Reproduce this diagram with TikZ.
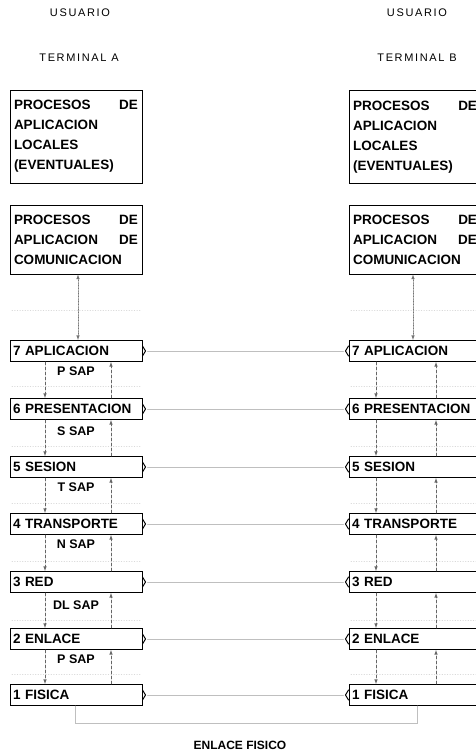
\documentclass[tikz,border=0pt]{standalone}
\usepackage{fontspec}
\setmainfont{Liberation Sans}
\newfontfamily\headfont{Liberation Sans}[LetterSpace=15]
\usetikzlibrary{arrows}

\tikzset{
  procbox/.style={draw,line width=1pt,text width=124pt,inner xsep=4pt,inner ysep=3pt,
    align=left,font=\fontsize{13.5}{20}\selectfont\bfseries},
  layer/.style={draw,line width=1pt,text width=126pt,inner xsep=3pt,inner ysep=0pt,
    minimum height=21pt,align=left,font=\fontsize{13.5}{16}\selectfont\bfseries},
  sap/.style={font=\fontsize{12.5}{14}\selectfont\bfseries},
  head/.style={font=\fontsize{11}{13}\headfont},
  peer/.style={gray!50,line width=.6pt},
  svc/.style={black!60,line width=.6pt,dash pattern=on 3pt off 2pt,-latex},
  link/.style={black!55,line width=.6pt,densely dotted,latex-latex},
  gapline/.style={gray!30,dotted,line width=.6pt},
}

\begin{document}
\begin{tikzpicture}[x=1pt,y=-1pt,line cap=round]
  \useasboundingbox (0,0) rectangle (476,755);

  % terminal A
  \node[head] (usrA) at (80,13) {USUARIO};
  \node[head] (termA) at (79,58) {TERMINAL A};
  \node[procbox,minimum height=93pt] (locA) at (76,136.5)
    {PROCESOS\hfill DE\\APLICACION\\LOCALES\\(EVENTUALES)};
  \node[procbox,minimum height=69pt] (comA) at (76,239.5)
    {PROCESOS\hfill DE\\APLICACION\hfill DE\\COMUNICACION};
  \node[layer] (a7) at (76,351) {7 APLICACION};
  \node[layer] (a6) at (76,409) {6 PRESENTACION};
  \node[layer] (a5) at (76,467) {5 SESION};
  \node[layer] (a4) at (76,524) {4 TRANSPORTE};
  \node[layer] (a3) at (76,582) {3 RED};
  \node[layer] (a2) at (76,639) {2 ENLACE};
  \node[layer] (a1) at (76,695) {1 FISICA};

  \node[sap] (sap7) at (76,371) {P SAP};
  \node[sap] (sap6) at (76,431) {S SAP};
  \node[sap] (sap5) at (76,487) {T SAP};
  \node[sap] (sap4) at (76,544) {N SAP};
  \node[sap] (sap3) at (76,605) {DL SAP};
  \node[sap] (sap2) at (76,659) {P SAP};

  % terminal B
  \node[head] (usrB) at (417,13) {USUARIO};
  \node[head] (termB) at (417,58) {TERMINAL B};
  \node[procbox,minimum height=93pt] (locB) at (415,137)
    {PROCESOS\hfill DE\\APLICACION\\LOCALES\\(EVENTUALES)};
  \node[procbox,minimum height=69pt] (comB) at (415,239.5)
    {PROCESOS\hfill DE\\APLICACION\hfill DE\\COMUNICACION};
  \node[layer] (b7) at (415,351) {7 APLICACION};
  \node[layer] (b6) at (415,409) {6 PRESENTACION};
  \node[layer] (b5) at (415,467) {5 SESION};
  \node[layer] (b4) at (415,524) {4 TRANSPORTE};
  \node[layer] (b3) at (415,582) {3 RED};
  \node[layer] (b2) at (415,639) {2 ENLACE};
  \node[layer] (b1) at (415,695) {1 FISICA};

  % faint rules between the layers
  \foreach \y in {310,386,446,503,561,620,674} {
    \draw[gapline] (12,\y) -- (140,\y);
    \draw[gapline] (351,\y) -- (476,\y);
  }

  % braces on the facing sides
  \foreach \n in {1,...,7} {
    \draw[line width=1pt] ([yshift=5pt]a\n.east) -- ([xshift=3pt]a\n.east)
      -- ([yshift=-5pt]a\n.east);
    \draw[line width=1pt] ([yshift=5pt]b\n.west) -- ([xshift=-3pt]b\n.west)
      -- ([yshift=-5pt]b\n.west);
    \draw[peer] ([xshift=5pt]a\n.east) -- ([xshift=-5pt]b\n.west);
  }

  % service primitives down and up
  \foreach \u/\l in {7/6,6/5,5/4,4/3,3/2,2/1} {
    \draw[svc] ([xshift=-31pt]a\u.south) -- ([xshift=-31pt]a\l.north);
    \draw[svc] ([xshift=35pt]a\l.north) -- ([xshift=35pt]a\u.south);
    \draw[svc] ([xshift=-39pt]b\u.south) -- ([xshift=-39pt]b\l.north);
    \draw[svc] ([xshift=21pt]b\l.north) -- ([xshift=21pt]b\u.south);
  }
  \draw[link] ([xshift=2pt]comA.south) -- ([xshift=2pt]a7.north);
  \draw[link] ([xshift=-2pt]comB.south) -- ([xshift=-2pt]b7.north);

  % physical medium
  \draw[peer] ([xshift=-1pt]a1.south) -- ++(0,17) -| ([xshift=2pt]b1.south);
  \node[font=\fontsize{12}{14}\selectfont\bfseries] (medio) at (240,745) {ENLACE FISICO};
\end{tikzpicture}
\end{document}
